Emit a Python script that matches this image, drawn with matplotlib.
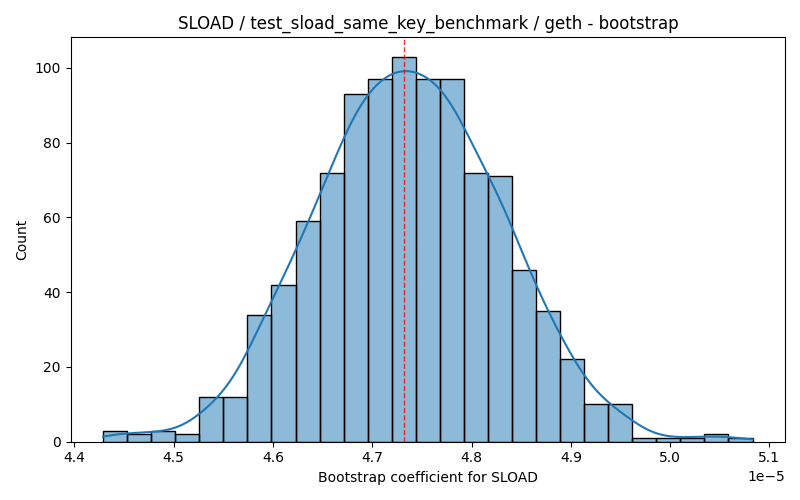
import numpy as np
import matplotlib

matplotlib.use("Agg")
import matplotlib.pyplot as plt

# bootstrap histogram (x in units of 1e-5)
bin_lo = 4.429
bin_hi = 5.083
counts = [3, 2, 3, 2, 12, 12, 34, 42, 59, 72, 93, 97, 103, 97, 97,
          72, 71, 46, 35, 22, 10, 10, 1, 1, 1, 2, 1]
point_estimate = 4.7325

SCALE = 1e-5
TITLE = "SLOAD / test_sload_same_key_benchmark / geth - bootstrap"


def kde_curve(centers, weights, lo, hi, n=200):
    """Gaussian KDE (Scott's rule) from binned data, in count units."""
    w = np.asarray(weights, float)
    x = np.asarray(centers, float)
    total = w.sum()
    mean = np.sum(w * x) / total
    std = np.sqrt(np.sum(w * (x - mean) ** 2) / (total - 1))
    bw = std * total ** (-1 / 5)
    grid = np.linspace(lo, hi, n)
    dens = np.zeros_like(grid)
    for xi, wi in zip(x, w):
        dens += wi * np.exp(-0.5 * ((grid - xi) / bw) ** 2)
    dens /= total * bw * np.sqrt(2 * np.pi)
    return grid, dens


edges = np.linspace(bin_lo, bin_hi, len(counts) + 1) * SCALE
centers = 0.5 * (edges[:-1] + edges[1:])
width = edges[1] - edges[0]

fig, ax = plt.subplots(figsize=(8, 5), dpi=100)
ax.bar(edges[:-1], counts, width=width, align="edge",
       color="#1f77b4", alpha=0.5, edgecolor="none")
ax.bar(edges[:-1], counts, width=width, align="edge",
       facecolor="none", edgecolor="black", linewidth=1)

gx, gy = kde_curve(centers, counts, edges[0], edges[-1])
ax.plot(gx, gy * sum(counts) * width, color="#1f77b4", lw=1.5)

ax.axvline(point_estimate * SCALE, color="red", ls="--", lw=1, alpha=0.8)

ax.set_title(TITLE)
ax.set_xlabel("Bootstrap coefficient for SLOAD")
ax.set_ylabel("Count")
fig.tight_layout()
fig.savefig("out.png")
